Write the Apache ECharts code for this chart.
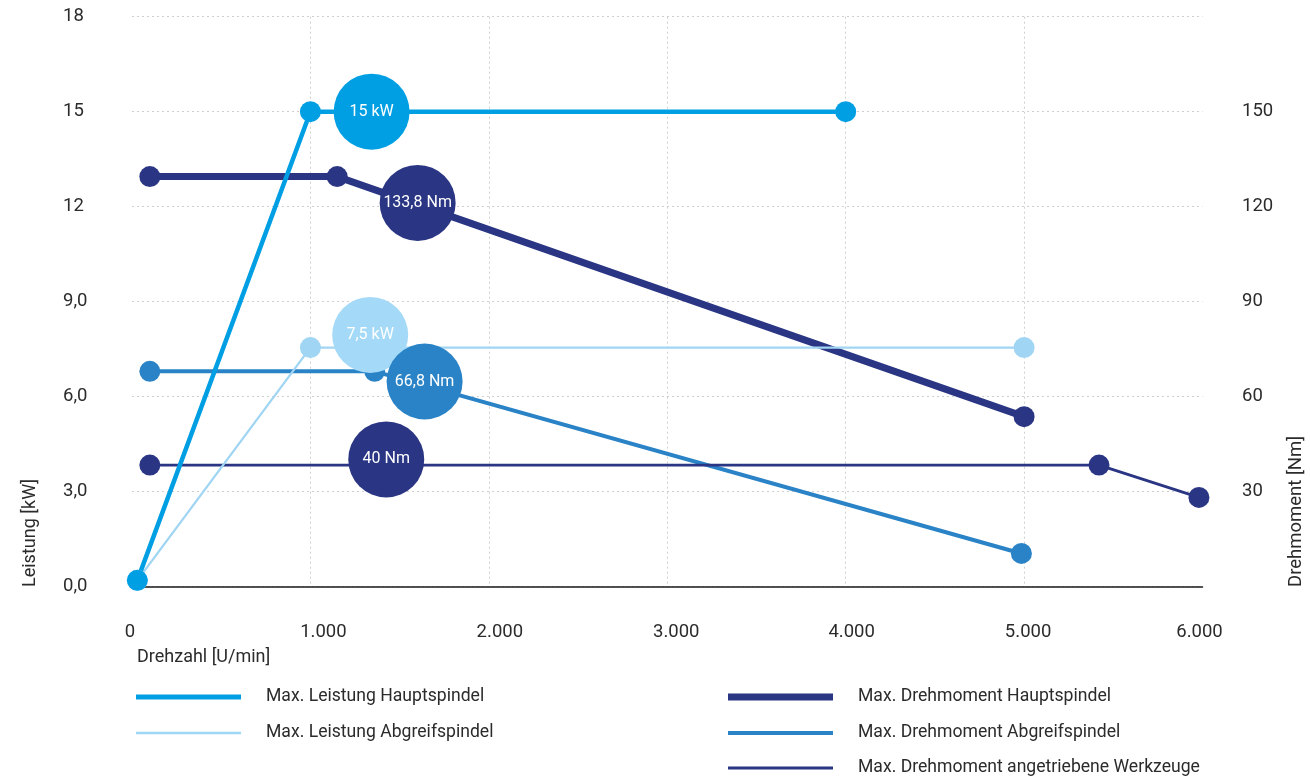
<!DOCTYPE html>
<html>
<head>
<meta charset="utf-8">
<script src="https://cdn.jsdelivr.net/npm/echarts@6/dist/echarts.min.js"></script>
<style>html,body{margin:0;padding:0;background:#fff}#c{width:1310px;height:783px}</style>
</head>
<body>
<div id="c"></div>
<script>
// ---- data ----
const speedLeistungHaupt = [30, 1000, 4000];
const leistungHaupt = [0.2, 15, 15];
const speedLeistungAbgreif = [30, 1000, 5000];
const leistungAbgreif = [0.2, 7.55, 7.55];
const speedMomentHaupt = [100, 1150, 5000];
const momentHaupt = [129.5, 129.5, 53.7];
const speedMomentAbgreif = [100, 1360, 4985];
const momentAbgreif = [68, 68, 10.5];
const speedMomentWerkzeuge = [100, 5420, 5980];
const momentWerkzeuge = [38.4, 38.4, 28.2];
const bubbleLabels = ['133,8 Nm', '40 Nm', '15 kW', '7,5 kW', '66,8 Nm'];
const bubbleSpeed = [1601, 1425, 1343, 1335, 1640];
const bubbleValue = [121.2, 40.2, 15, 7.95, 64.8];
const bubbleAxis = [1, 1, 0, 0, 1];
const seriesNames = ['Max. Leistung Hauptspindel', 'Max. Leistung Abgreifspindel',
  'Max. Drehmoment Hauptspindel', 'Max. Drehmoment Abgreifspindel', 'Max. Drehmoment angetriebene Werkzeuge'];
const xTicks = [0, 1000, 2000, 3000, 4000, 5000, 6000];
const xTickLabels = ['0', '1.000', '2.000', '3.000', '4.000', '5.000', '6.000'];
const leftTickLabels = ['0,0', '3,0', '6,0', '9,0', '12', '15', '18'];
const rightTickLabels = ['', '30', '60', '90', '120', '150', ''];

// ---- styling ----
const F = "Roboto, 'Liberation Sans', sans-serif";
const TXT = '#2b2b2b';
const C = {
  lh: '#009fe3', la: '#a0d5f3', mh: '#2a3583', ma: '#2a83c6', mw: '#2a3583'
};
const bubbleColors = [C.mh, C.mw, C.lh, '#a4daf7', C.ma];
const xShift = {0: -2, 1000: 13, 2000: 11, 3000: 9, 4000: 6, 5000: 4, 6000: -3};
const AX = 18.5;

function zip(a, b) { return a.map((v, i) => [v, b[i]]); }
function lineSeries(name, xs, ys, color, width, yIdx) {
  return {
    name, type: 'line', yAxisIndex: yIdx, data: zip(xs, ys),
    symbol: 'circle', symbolSize: 21, showSymbol: true,
    lineStyle: { color, width }, itemStyle: { color },
    emphasis: { disabled: true }, silent: true, z: 2
  };
}

const rich = {};
xTicks.forEach(t => {
  const s = xShift[t];
  rich['o' + t] = {
    fontFamily: F, fontSize: AX, color: TXT,
    padding: s >= 0 ? [0, 0, 0, 2 * s] : [0, -2 * s, 0, 0]
  };
});

const series = [
  lineSeries(seriesNames[2], speedMomentHaupt, momentHaupt, C.mh, 7, 1),
  lineSeries(seriesNames[3], speedMomentAbgreif, momentAbgreif, C.ma, 4, 1),
  lineSeries(seriesNames[4], speedMomentWerkzeuge, momentWerkzeuge, C.mw, 2.8, 1),
  lineSeries(seriesNames[1], speedLeistungAbgreif, leistungAbgreif, C.la, 2.3, 0),
  lineSeries(seriesNames[0], speedLeistungHaupt, leistungHaupt, C.lh, 4.5, 0)
];
bubbleLabels.forEach((lab, i) => {
  series.push({
    name: 'bubble' + i, type: 'scatter', yAxisIndex: bubbleAxis[i],
    data: [[bubbleSpeed[i], bubbleValue[i]]],
    symbol: 'circle', symbolSize: 76,
    itemStyle: { color: bubbleColors[i], opacity: 1 },
    label: { show: true, position: 'inside', formatter: lab, color: '#fff', fontFamily: F, fontSize: 16 },
    emphasis: { disabled: true }, silent: true, z: 3
  });
});

const legendRows = [
  { name: seriesNames[0], left: 136, y: 697, h: 5 },
  { name: seriesNames[1], left: 136, y: 733, h: 2.5 },
  { name: seriesNames[2], left: 728, y: 697, h: 7 },
  { name: seriesNames[3], left: 728, y: 733, h: 4 },
  { name: seriesNames[4], left: 728, y: 768, h: 3 }
];
const legends = legendRows.map(r => ({
  data: [r.name], left: r.left, top: r.y - 12, padding: 0,
  icon: 'rect', itemWidth: 105, itemHeight: r.h, selectedMode: false,
  textStyle: { fontFamily: F, fontSize: 17.6, color: TXT, lineHeight: 24, padding: [0, 0, 0, 20] }
}));

const chart = echarts.init(document.getElementById('c'), null, { renderer: 'canvas' });
chart.setOption({
  animation: false,
  backgroundColor: '#fff',
  grid: { left: 132, right: 107.5, top: 16.7, bottom: 196.3, containLabel: false },
  legend: legends,
  xAxis: {
    type: 'value', min: 0, max: 6000, interval: 1000,
    axisLine: { show: true, onZero: false, lineStyle: { color: '#1a1a1a', width: 1.5 } },
    axisTick: { show: false },
    splitLine: { show: true, showMinLine: false, showMaxLine: false, lineStyle: { color: '#cfcfcf', type: [2, 3], width: 1 } },
    axisLabel: {
      margin: 36, lineHeight: 20, fontFamily: F, fontSize: AX, color: TXT,
      formatter: v => { const i = xTicks.indexOf(v); return '{o' + v + '|' + (i >= 0 ? xTickLabels[i] : '') + '}'; },
      rich
    }
  },
  yAxis: [
    {
      type: 'value', min: 0, max: 18, interval: 3, position: 'left',
      axisLine: { show: false }, axisTick: { show: false },
      splitLine: { show: true, lineStyle: { color: '#cfcfcf', type: [2, 3], width: 1 } },
      axisLabel: {
        align: 'left', margin: 69, fontFamily: F, fontSize: AX, color: TXT,
        formatter: v => leftTickLabels[Math.round(v / 3)] || ''
      }
    },
    {
      type: 'value', min: 0, max: 180, interval: 30, position: 'right',
      axisLine: { show: false }, axisTick: { show: false }, splitLine: { show: false },
      axisLabel: {
        align: 'left', margin: 39.5, fontFamily: F, fontSize: AX, color: TXT,
        formatter: v => rightTickLabels[Math.round(v / 30)] || ''
      }
    }
  ],
  graphic: [
    { type: 'text', x: 30, y: 587, rotation: Math.PI / 2,
      style: { text: 'Leistung [kW]', fill: TXT, font: '18px ' + F, textAlign: 'left', textVerticalAlign: 'middle' } },
    { type: 'text', x: 1296, y: 587, rotation: Math.PI / 2,
      style: { text: 'Drehmoment [Nm]', fill: TXT, font: '18.5px ' + F, textAlign: 'left', textVerticalAlign: 'middle' } },
    { type: 'text', x: 137, y: 657,
      style: { text: 'Drehzahl [U/min]', fill: TXT, font: '18px ' + F, textAlign: 'left', textVerticalAlign: 'middle' } }
  ],
  series
});
</script>
</body>
</html>
